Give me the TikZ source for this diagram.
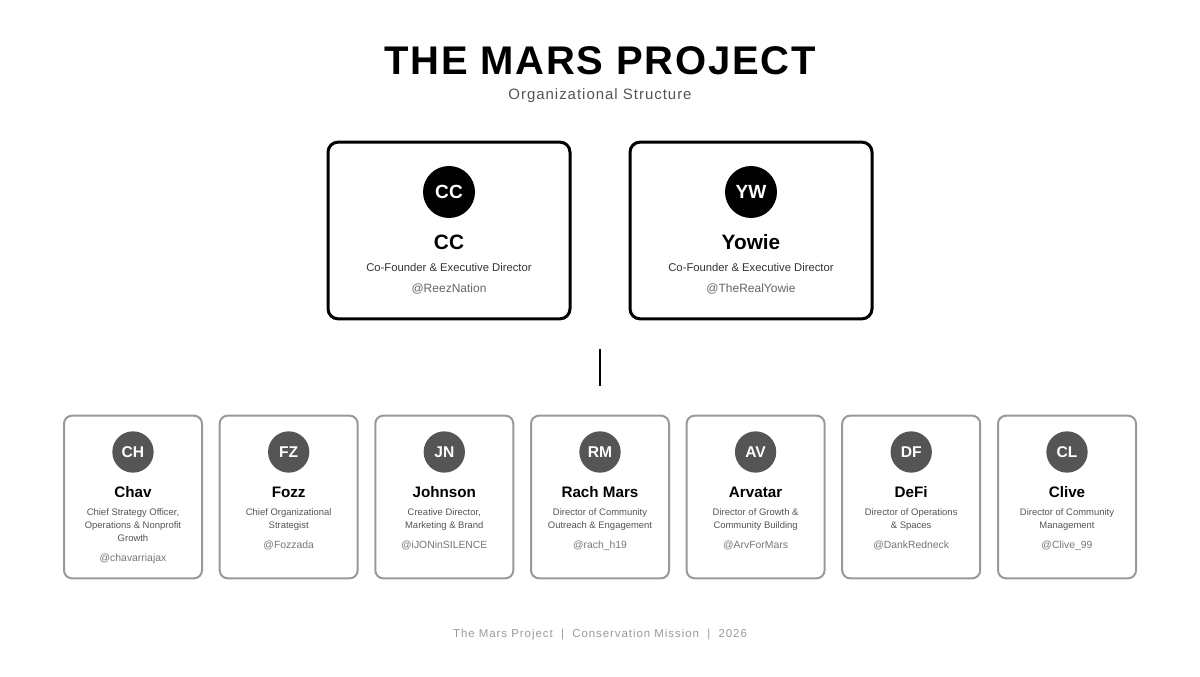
\documentclass[tikz,border=0pt]{standalone}
\usepackage{fontspec}
\setmainfont{Liberation Sans}
\usetikzlibrary{positioning}
\definecolor{smallgray}{HTML}{555555}
\definecolor{bordergray}{HTML}{999999}
\definecolor{rolegray}{HTML}{333333}
\definecolor{smallrole}{HTML}{555555}
\definecolor{handlegray}{HTML}{666666}
\definecolor{smallhandle}{HTML}{777777}
\definecolor{footgray}{HTML}{999999}
\newcommand\spaced[2]{\addfontfeature{LetterSpace=#1}#2}
\tikzset{%
  >=latex,
  inner sep=0pt,%
  outer sep=0pt,%
  big card/.style={draw=black,line width=2.25pt,rounded corners=7.5pt,fill=white},
  small card/.style={draw=bordergray,line width=1.5pt,rounded corners=6pt,fill=white},
  big badge/.style={circle,fill=black,text=white,minimum size=39pt,font=\fontsize{14.3}{18}\selectfont\bfseries},
  small badge/.style={circle,fill=smallgray,text=white,minimum size=31pt,font=\fontsize{11.7}{14}\selectfont\bfseries},
  big name/.style={anchor=base,font=\fontsize{15.6}{20}\selectfont\bfseries},
  big role/.style={anchor=base,text=rolegray,font=\fontsize{8.45}{11}\selectfont},
  big handle/.style={anchor=base,text=handlegray,font=\fontsize{9}{12}\selectfont},
  small name/.style={anchor=base,font=\fontsize{11.4}{14}\selectfont\bfseries},
  small role/.style={anchor=north,text=smallrole,align=center,font=\fontsize{7.1}{9.75}\selectfont},
  small handle/.style={anchor=base,text=smallhandle,font=\fontsize{7.8}{10}\selectfont}
}
% #1 id, #2 x centre, #3 initials, #4 name, #5 role, #6 handle
\newcommand\DrawBigCard[6]{
  \node[big card,minimum width=183pt-1.5pt,minimum height=134pt-1.5pt] (#1card) at (#2,230.5) {};
  \node[big badge] (#1badge) at (#2,192) {\raisebox{-1pt}{#3}};
  \node[big name] (#1name) at (#2,249.5) {#4};
  \node[big role] (#1role) at (#2,271.5) {#5};
  \node[big handle] (#1handle) at (#2,293) {#6};
}
% #1 id, #2 x centre, #3 initials, #4 name, #5 role, #6 handle, #7 handle baseline
\newcommand\DrawSmallCard[7]{
  \node[small card,minimum width=103.5pt,minimum height=122pt] (#1card) at (#2,497) {};
  \node[small badge] (#1badge) at (#2,452) {#3};
  \node[small name] (#1name) at (#2,497.5) {#4};
  \node[small role] (#1role) at (#2,508.5) {#5};
  \node[small handle] (#1handle) at (#2,#7) {#6};
}

\begin{document}
\begin{tikzpicture}[x=0.75pt,y=-0.75pt]
\useasboundingbox (0,0) rectangle (1200,677);

\node[anchor=base,font=\fontsize{30}{36}\selectfont\bfseries] (title) at (600,74.5) {\spaced{4.3}{THE MARS PROJECT}};
\node[anchor=base,text=smallgray,font=\fontsize{11.25}{14}\selectfont] (subtitle) at (600,100) {\spaced{6.5}{Organizational Structure}};

\DrawBigCard{cc}{449}{CC}{CC}{Co-Founder \& Executive Director}{@ReezNation}
\DrawBigCard{yw}{751}{YW}{Yowie}{Co-Founder \& Executive Director}{@TheRealYowie}

\coordinate (stemtop) at (600,349);
\coordinate (stembottom) at (600,386);
\draw[line width=1.5pt] (stemtop) -- (stembottom); %link between the rows

\DrawSmallCard{ch}{133}{CH}{Chav}{Chief Strategy Officer,\\Operations \& Nonprofit\\Growth}{@chavarriajax}{561}
\DrawSmallCard{fz}{288.7}{FZ}{Fozz}{Chief Organizational\\Strategist}{@Fozzada}{548}
\DrawSmallCard{jn}{444.3}{JN}{Johnson}{Creative Director,\\Marketing \& Brand}{@iJONinSILENCE}{548}
\DrawSmallCard{rm}{600}{RM}{Rach Mars}{Director of Community\\Outreach \& Engagement}{@rach\_h19}{548}
\DrawSmallCard{av}{755.6}{AV}{Arvatar}{Director of Growth \&\\Community Building}{@ArvForMars}{548}
\DrawSmallCard{df}{911.2}{DF}{DeFi}{Director of Operations\\\& Spaces}{@DankRedneck}{548}
\DrawSmallCard{cl}{1067}{CL}{Clive}{Director of Community\\Management}{@Clive\_99}{548}

\node[anchor=base,text=footgray,font=\fontsize{8.6}{11}\selectfont] (footer) at (600,637) {\spaced{8.3}{The Mars Project\ \ |\ \ Conservation Mission\ \ |\ \ 2026}};
\end{tikzpicture}
\end{document}
